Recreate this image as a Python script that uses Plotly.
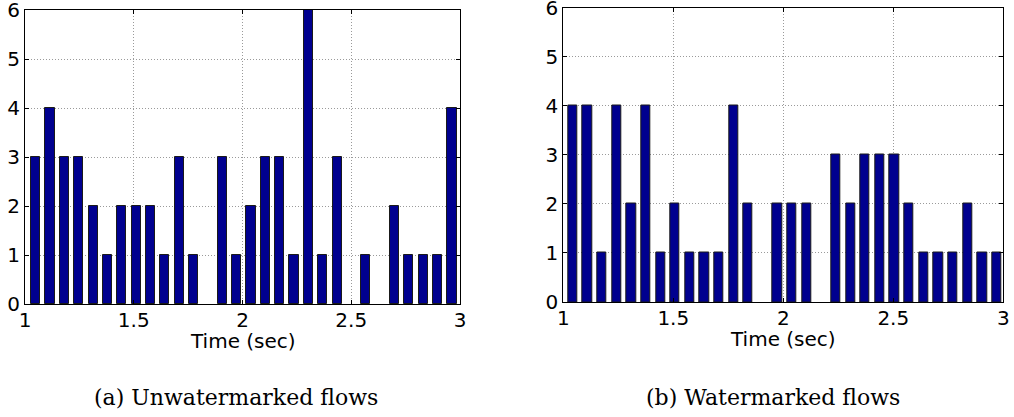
import plotly.graph_objects as go

# Left panel: unwatermarked flows
left_centers = [1.049, 1.115, 1.181, 1.247, 1.313, 1.379, 1.445, 1.511, 1.577, 1.643,
                1.709, 1.775, 1.841, 1.907, 1.973, 2.039, 2.105, 2.171, 2.237, 2.303,
                2.369, 2.435, 2.501, 2.567, 2.633, 2.699, 2.765, 2.831, 2.897, 2.963]
left_counts = [3, 4, 3, 3, 2, 1, 2, 2, 2, 1, 3, 1, 0, 3, 1, 2, 3, 3, 1, 6,
               1, 3, 0, 1, 0, 2, 1, 1, 1, 4]

# Right panel: watermarked flows
right_centers = [1.043, 1.109, 1.176, 1.242, 1.309, 1.375, 1.442, 1.508, 1.575, 1.641,
                 1.708, 1.774, 1.840, 1.907, 1.973, 2.040, 2.106, 2.173, 2.239, 2.306,
                 2.372, 2.438, 2.505, 2.571, 2.638, 2.704, 2.771, 2.837, 2.904, 2.970]
right_counts = [4, 4, 1, 4, 2, 4, 1, 2, 1, 1, 1, 4, 2, 0, 2, 2, 2, 0, 3, 2,
                3, 3, 3, 2, 1, 1, 1, 2, 1, 1]

x_ticks = [1, 1.5, 2, 2.5, 3]
x_tick_text = ["1", "1.5", "2", "2.5", "3"]
y_ticks = [0, 1, 2, 3, 4, 5, 6]
x_title = "Time (sec)"
captions = ["(a) Unwatermarked flows", "(b) Watermarked flows"]

W, H = 1014, 417
BAR_COLOR = "#00008F"
EDGE = "#1a1a1a"
GRID = "#9a9a9a"
GRID_DASH = "1px,2px"

def edge_widths(counts):
    return [1 if c > 0 else 0 for c in counts]

fig = go.Figure()
fig.add_trace(go.Bar(x=left_centers, y=left_counts, width=0.042,
                     marker=dict(color=BAR_COLOR, line=dict(color=EDGE, width=edge_widths(left_counts))),
                     xaxis="x", yaxis="y", showlegend=False))
fig.add_trace(go.Bar(x=right_centers, y=right_counts, width=0.042,
                     marker=dict(color=BAR_COLOR, line=dict(color=EDGE, width=edge_widths(right_counts))),
                     xaxis="x2", yaxis="y2", showlegend=False))

tick_font = dict(family="DejaVu Sans, sans-serif", size=20, color="black")

def xax(domain, anchor):
    return dict(domain=domain, anchor=anchor, range=[1, 3], tickvals=x_ticks, ticktext=x_tick_text,
                ticks="inside", ticklen=4, tickcolor="black", showline=True, linecolor="black",
                linewidth=1, mirror="ticks", showgrid=True, gridcolor=GRID, griddash=GRID_DASH,
                gridwidth=1, zeroline=False, tickfont=tick_font, fixedrange=True, automargin=False,
                ticklabeloverflow="allow", ticklabelstandoff=-2)

def yax(domain, anchor):
    return dict(domain=domain, anchor=anchor, range=[0, 6], tickvals=y_ticks,
                ticks="inside", ticklen=4, tickcolor="black", showline=True, linecolor="black",
                linewidth=1, mirror="ticks", showgrid=True, gridcolor=GRID, griddash=GRID_DASH,
                gridwidth=1, zeroline=False, tickfont=tick_font, fixedrange=True,
                automargin=False, ticklabeloverflow="allow")

def px_x(p):
    return p / W

def px_y(p):
    return 1 - p / H

fig.update_layout(
    width=W, height=H,
    margin=dict(l=0, r=0, t=0, b=0, autoexpand=False),
    paper_bgcolor="white", plot_bgcolor="white",
    bargap=0,
    xaxis=xax([px_x(25), px_x(460)], "y"),
    yaxis=yax([px_y(304), px_y(10)], "x"),
    xaxis2=xax([px_x(563.3), px_x(1003.3)], "y2"),
    yaxis2=yax([px_y(302), px_y(7.5)], "x2"),
)

title_font = dict(family="DejaVu Sans, sans-serif", size=20, color="black")
cap_font = dict(family="DejaVu Serif, serif", size=22, color="black")

fig.add_annotation(x=px_x(242.5), y=px_y(341), xref="paper", yref="paper", text=x_title,
                   showarrow=False, font=title_font, xanchor="center", yanchor="middle")
fig.add_annotation(x=px_x(783), y=px_y(339), xref="paper", yref="paper", text=x_title,
                   showarrow=False, font=title_font, xanchor="center", yanchor="middle")
fig.add_annotation(x=px_x(236), y=px_y(397), xref="paper", yref="paper", text=captions[0],
                   showarrow=False, font=cap_font, xanchor="center", yanchor="middle")
fig.add_annotation(x=px_x(773), y=px_y(397), xref="paper", yref="paper", text=captions[1],
                   showarrow=False, font=cap_font, xanchor="center", yanchor="middle")

fig.write_html("out.html", config={"displayModeBar": False},
               post_script="document.body.style.margin='0px';document.body.style.overflow='hidden';")
